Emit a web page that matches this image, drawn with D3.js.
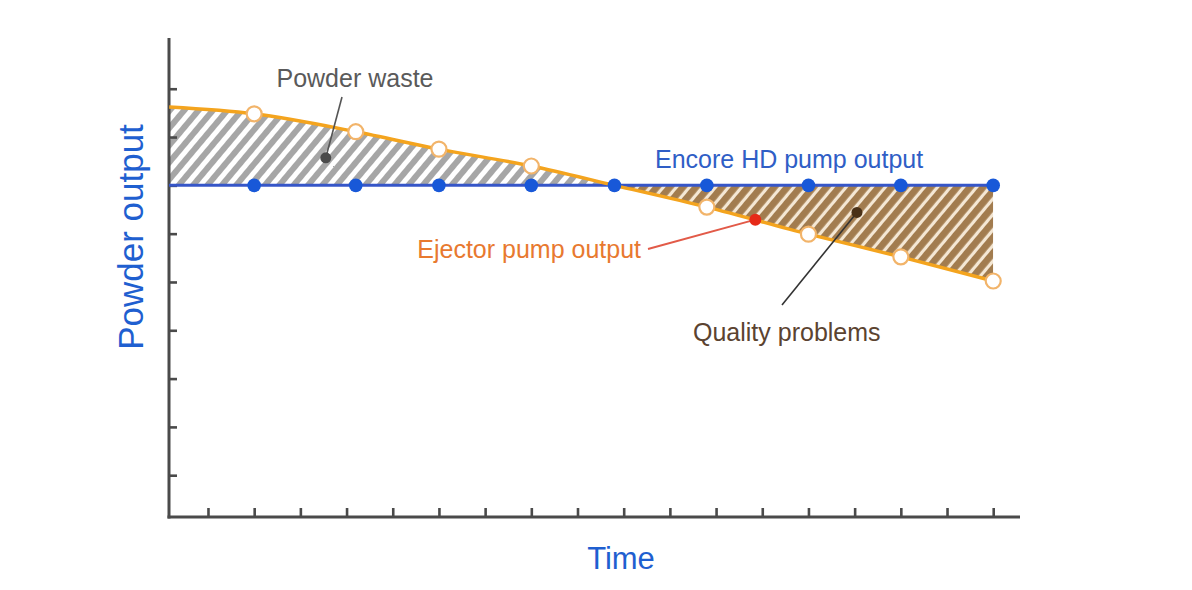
<!DOCTYPE html>
<html>
<head>
<meta charset="utf-8">
<script src="https://cdn.jsdelivr.net/npm/d3@7"></script>
<style>
  html, body { margin: 0; padding: 0; background: #fff; }
  svg { display: block; font-family: "Liberation Sans", Arial, sans-serif; }
</style>
</head>
<body>
<svg id="chart" width="1192" height="590"></svg>
<script>
// ---- data ----
const xTicks = [1,2,3,4,5,6,7,8,9,10,11,12,13,14,15,16,17,18];
const yTicks = [1,2,3,4,5,6,7,8,9];
const encoreX = [2, 4.2, 6, 8, 9.8, 11.8, 14, 16, 18];
const encoreY = [7, 7, 7, 7, 7, 7, 7, 7, 7];
const ejectorX = [0.16, 2, 4.2, 6, 8, 9.8, 11.8, 14, 16, 18];
const ejectorY = [8.62, 8.48, 8.11, 7.75, 7.40, 7.0, 6.55, 5.99, 5.52, 5.02];
const ejectorMarkerX = [2, 4.2, 6, 8, 11.8, 14, 16, 18];
const crossX = 9.8;
const baseline = 7;
const redPoint = {x: 12.85, y: 6.29};
const wastePoint = {x: 3.55, y: 7.57};
const qualityPoint = {x: 15.05, y: 6.44};

const svg = d3.select("#chart");
const x = d3.scaleLinear().domain([0.156, 18.58]).range([169, 1020]);
const y = d3.scaleLinear().domain([0.135, 10.05]).range([517, 38]);

const orange = ejectorX.map((v, i) => ({x: v, y: ejectorY[i]}));
const orangeAt = d3.scaleLinear().domain(ejectorX).range(ejectorY);

// patterns & clips
const defs = svg.append("defs");
const pg = defs.append("pattern").attr("id", "hatchGray").attr("patternUnits", "userSpaceOnUse")
  .attr("width", 11).attr("height", 11).attr("patternTransform", "rotate(40)");
pg.append("rect").attr("width", 11).attr("height", 11).attr("fill", "#ffffff");
pg.append("rect").attr("width", 6).attr("height", 11).attr("fill", "#a6a6a6");
const pb = defs.append("pattern").attr("id", "hatchBrown").attr("patternUnits", "userSpaceOnUse")
  .attr("width", 10).attr("height", 10).attr("patternTransform", "rotate(40)");
pb.append("rect").attr("width", 10).attr("height", 10).attr("fill", "#f4e7d4");
pb.append("rect").attr("width", 6.8).attr("height", 10).attr("fill", "#a27c4f");

defs.append("clipPath").attr("id", "clipLeft").append("rect")
  .attr("x", x.range()[0]).attr("y", 0).attr("width", x(crossX) - x.range()[0]).attr("height", 590);
defs.append("clipPath").attr("id", "clipRight").append("rect")
  .attr("x", x(crossX)).attr("y", 0).attr("width", x(18) - x(crossX)).attr("height", 590);

const curve = d3.curveMonotoneX;
const area = d3.area().x(d => x(d.x)).y0(y(baseline)).y1(d => y(d.y)).curve(curve);

svg.append("path").datum(orange).attr("d", area).attr("fill", "url(#hatchGray)").attr("clip-path", "url(#clipLeft)");
svg.append("path").datum(orange).attr("d", area).attr("fill", "url(#hatchBrown)").attr("clip-path", "url(#clipRight)");

// axes
const axisColor = "#4a4a4a";
const gx = svg.append("g").attr("transform", `translate(0,${y.range()[0]})`)
  .call(d3.axisTop(x).tickValues(xTicks).tickSize(9).tickFormat(""));
const gy = svg.append("g").attr("transform", `translate(${x.range()[0]},0)`)
  .call(d3.axisRight(y).tickValues(yTicks).tickSize(8).tickFormat(""));
[gx, gy].forEach(g => {
  g.select(".domain").attr("stroke", axisColor).attr("stroke-width", 3);
  g.selectAll(".tick line").attr("stroke", axisColor).attr("stroke-width", 2.6);
});
gx.select(".domain").attr("d", `M${x.range()[0]-1.5},0H${x.range()[1]}`);
gy.select(".domain").attr("d", `M0,${y.range()[1]}V${y.range()[0]+1.5}`);

// blue line
const blue = encoreX.map((v, i) => ({x: v, y: encoreY[i]}));
svg.append("path").datum([{x: x.domain()[0], y: baseline}, ...blue])
  .attr("d", d3.line().x(d => x(d.x)).y(d => y(d.y)))
  .attr("fill", "none").attr("stroke", "#3656c8").attr("stroke-width", 3);

// orange line
svg.append("path").datum(orange)
  .attr("d", d3.line().x(d => x(d.x)).y(d => y(d.y)).curve(curve))
  .attr("fill", "none").attr("stroke", "#f4a41e").attr("stroke-width", 3.5);

// blue dots
svg.selectAll("circle.blue").data(blue).join("circle").attr("class", "blue")
  .attr("cx", d => x(d.x)).attr("cy", d => y(d.y)).attr("r", 6.8).attr("fill", "#1858d8");

// orange open circles
svg.selectAll("circle.or").data(ejectorMarkerX).join("circle").attr("class", "or")
  .attr("cx", d => x(d)).attr("cy", d => y(orangeAt(d))).attr("r", 7.5)
  .attr("fill", "#ffffff").attr("stroke", "#f2b46a").attr("stroke-width", 2.2);

// annotations
// Powder waste
svg.append("line").attr("x1", 342).attr("y1", 97).attr("x2", x(wastePoint.x)).attr("y2", y(wastePoint.y))
  .attr("stroke", "#555", ).attr("stroke-width", 1.6);
svg.append("circle").attr("cx", x(wastePoint.x)).attr("cy", y(wastePoint.y)).attr("r", 5.5).attr("fill", "#4b4b4b");
svg.append("text").attr("x", 355).attr("y", 87).attr("text-anchor", "middle")
  .attr("font-size", 25).attr("fill", "#5a5a5a").text("Powder waste");

// Encore
svg.append("text").attr("x", 655).attr("y", 168).attr("font-size", 25).attr("fill", "#2f5ec6")
  .text("Encore HD pump output");

// Ejector
svg.append("line").attr("x1", 648).attr("y1", 249).attr("x2", x(redPoint.x)).attr("y2", y(redPoint.y))
  .attr("stroke", "#e25a48").attr("stroke-width", 2);
svg.append("circle").attr("cx", x(redPoint.x)).attr("cy", y(redPoint.y)).attr("r", 6).attr("fill", "#e62a18");
svg.append("text").attr("x", 641).attr("y", 258).attr("text-anchor", "end")
  .attr("font-size", 25).attr("fill", "#e8792f").text("Ejector pump output");

// Quality problems
svg.append("line").attr("x1", 782).attr("y1", 305).attr("x2", x(qualityPoint.x)).attr("y2", y(qualityPoint.y))
  .attr("stroke", "#333", ).attr("stroke-width", 1.6);
svg.append("circle").attr("cx", x(qualityPoint.x)).attr("cy", y(qualityPoint.y)).attr("r", 5.5).attr("fill", "#4a3117");
svg.append("text").attr("x", 693).attr("y", 341).attr("font-size", 25).attr("fill", "#5b4330")
  .text("Quality problems");

// axis titles
svg.append("text").attr("transform", "translate(143,237) rotate(-90)").attr("text-anchor", "middle")
  .attr("font-size", 35).attr("fill", "#1f5fd0").text("Powder output");
svg.append("text").attr("x", 621).attr("y", 569).attr("text-anchor", "middle")
  .attr("font-size", 31).attr("fill", "#1f5fd0").text("Time");
</script>
</body>
</html>
